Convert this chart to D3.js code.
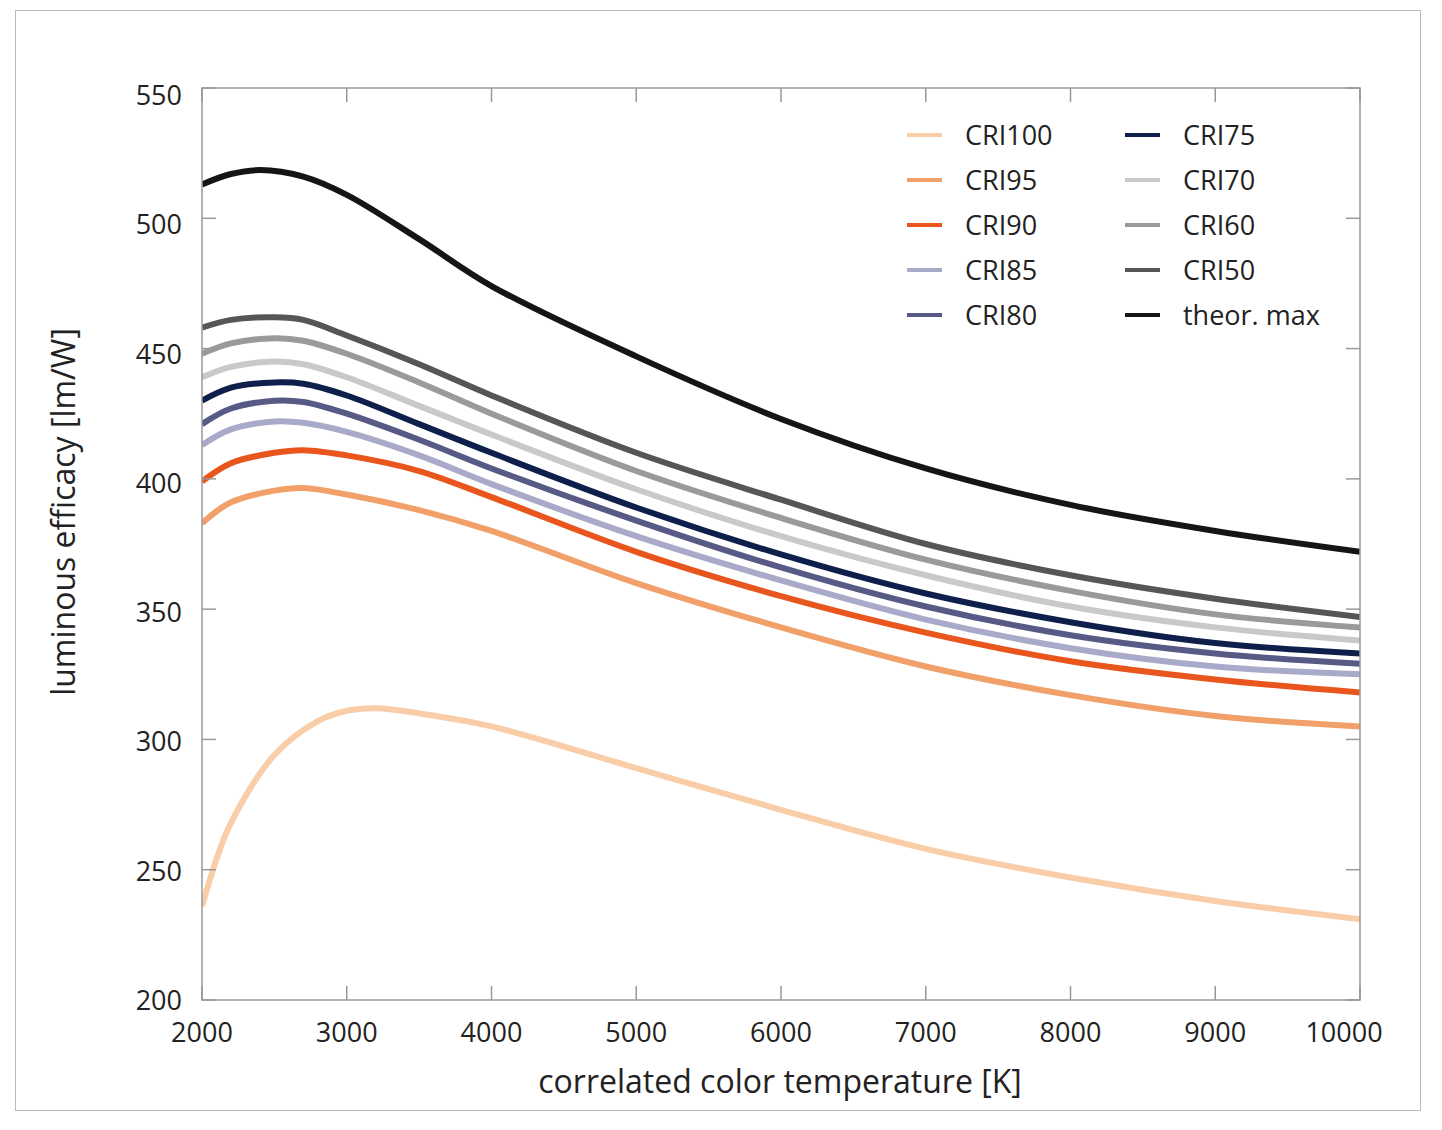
<!DOCTYPE html>
<html><head><meta charset="utf-8">
<script src="https://cdn.jsdelivr.net/npm/d3@7"></script>
<style>body{margin:0;background:#fff}svg text{font-family:"Open Sans","Liberation Sans",sans-serif;fill:#222}</style>
</head><body><svg id="c" width="1442" height="1130"></svg>
<script>
var cct = [2000, 2200, 2500, 2700, 3000, 3500, 4000, 5000, 6000, 7000, 8000, 9000, 10000];
var cri50 = [458, 461, 462, 461, 455, 444, 432, 410, 392, 375, 363, 354, 347];
var cri60 = [448, 452, 454, 453, 448, 437, 425, 403, 385, 369, 357, 348, 343];
var cri70 = [439, 443, 445, 444, 439, 428, 417, 396, 378, 363, 351, 343, 338];
var cri75 = [430, 435, 437, 436.5, 432, 421, 410, 389, 371, 356, 345, 337, 333];
var cri80 = [421, 427, 430, 429.5, 425, 415, 404, 384, 366, 351, 340, 333, 329];
var cri85 = [413, 419, 422, 421.5, 418, 409, 398, 378, 361, 346, 335, 328, 325];
var cri90 = [399, 406, 410, 411, 409, 403, 393, 372, 355, 341, 330, 323, 318];
var cri95 = [383, 391, 395.5, 396.5, 394, 388, 380, 360, 343, 328, 317, 309, 305];
var cri100Cct = [2000, 2100, 2200, 2500, 2800, 3000, 3200, 3500, 4000, 5000, 6000, 7000, 8000, 9000, 10000];
var cri100 = [236, 254, 268, 294, 307, 311, 312, 310, 305, 289, 273, 258, 247, 238, 231];
var theorCct = [2000, 2200, 2400, 2700, 3000, 3500, 4000, 5000, 6000, 7000, 8000, 9000, 10000];
var theorMax = [513, 517, 518.5, 516, 509, 492, 474, 447, 423, 404, 390, 380, 372];
var xTicks = [2000, 3000, 4000, 5000, 6000, 7000, 8000, 9000, 10000];
var yTicks = [200, 250, 300, 350, 400, 450, 500, 550];

var series = [
  {name: "CRI100", x: cri100Cct, y: cri100, color: "#f9cda8"},
  {name: "CRI95", x: cct, y: cri95, color: "#f0a068"},
  {name: "CRI90", x: cct, y: cri90, color: "#e8561e"},
  {name: "CRI85", x: cct, y: cri85, color: "#a9a9c9"},
  {name: "CRI80", x: cct, y: cri80, color: "#585a86"},
  {name: "CRI75", x: cct, y: cri75, color: "#0e1f4b"},
  {name: "CRI70", x: cct, y: cri70, color: "#c9c9c9"},
  {name: "CRI60", x: cct, y: cri60, color: "#9a9a9a"},
  {name: "CRI50", x: cct, y: cri50, color: "#565656"},
  {name: "theor. max", x: theorCct, y: theorMax, color: "#151515"}
];

var svg = d3.select("#c");
var L = 202, R = 1360, T = 88, B = 1000;
var x = d3.scaleLinear().domain([2000, 10000]).range([L, R]);
var y = d3.scaleLinear().domain([200, 550]).range([B, T]);

svg.append("rect").attr("x", 15.5).attr("y", 10.5).attr("width", 1405).attr("height", 1100)
  .attr("fill", "none").attr("stroke", "#bbb");

var line = d3.line().x(function (d) { return x(d[0]); }).y(function (d) { return y(d[1]); })
  .curve(d3.curveCatmullRom.alpha(0.5));

svg.append("clipPath").attr("id", "pc").append("rect")
  .attr("x", L).attr("y", T).attr("width", R - L).attr("height", B - T);

var g = svg.append("g").attr("clip-path", "url(#pc)");
series.forEach(function (s) {
  g.append("path").datum(d3.zip(s.x, s.y)).attr("d", line)
    .attr("fill", "none").attr("stroke", s.color).attr("stroke-width", 6);
});

// frame and inward ticks
svg.append("rect").attr("x", L).attr("y", T).attr("width", R - L).attr("height", B - T)
  .attr("fill", "none").attr("stroke", "#999").attr("stroke-width", 1.5);
var tk = svg.append("g").attr("stroke", "#999").attr("stroke-width", 1.5);
xTicks.forEach(function (v) {
  tk.append("line").attr("x1", x(v)).attr("x2", x(v)).attr("y1", B).attr("y2", B - 14);
  tk.append("line").attr("x1", x(v)).attr("x2", x(v)).attr("y1", T).attr("y2", T + 14);
  svg.append("text").attr("x", x(v) - (v === 10000 ? 16 : 0)).attr("y", B + 42).attr("text-anchor", "middle")
    .attr("font-size", 27).text(v);
});
yTicks.forEach(function (v) {
  tk.append("line").attr("x1", L).attr("x2", L + 14).attr("y1", y(v)).attr("y2", y(v));
  tk.append("line").attr("x1", R).attr("x2", R - 14).attr("y1", y(v)).attr("y2", y(v));
  svg.append("text").attr("x", L - 20).attr("y", y(v) + 10 + (v - 200) / 50).attr("text-anchor", "end")
    .attr("font-size", 27).text(v);
});

svg.append("text").attr("x", (L + R) / 2 - 1).attr("y", 1093).attr("text-anchor", "middle")
  .attr("font-size", 32).text("correlated color temperature [K]");
svg.append("text").attr("transform", "translate(75," + ((T + B) / 2 - 32) + ") rotate(-90)")
  .attr("text-anchor", "middle").attr("font-size", 32).text("luminous efficacy [lm/W]");

// legend
series.forEach(function (s, i) {
  var col = i < 5 ? 0 : 1, row = i % 5;
  var lx = col ? 1125 : 907, ly = 135 + row * 45;
  svg.append("line").attr("x1", lx).attr("x2", lx + 35).attr("y1", ly).attr("y2", ly)
    .attr("stroke", s.color).attr("stroke-width", 4);
  svg.append("text").attr("x", lx + 58).attr("y", ly + 10).attr("font-size", 27).text(s.name);
});
</script></body></html>
